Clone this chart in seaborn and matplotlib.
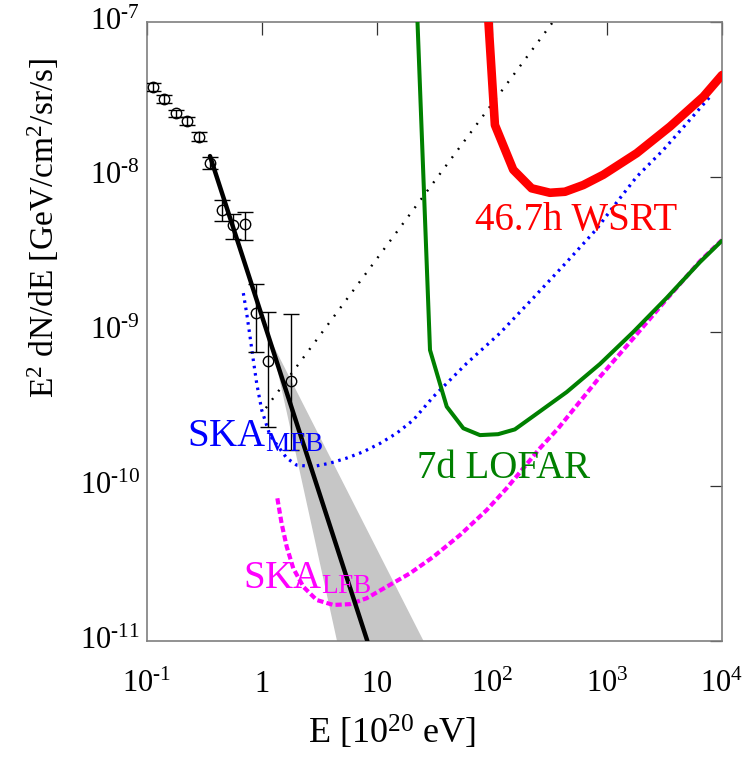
import matplotlib
matplotlib.use("Agg")
import numpy as np
import pandas as pd
import matplotlib.pyplot as plt
import seaborn as sns
from matplotlib.ticker import FixedLocator, FixedFormatter, NullLocator

# ---- measured cosmic-ray flux (E in 1e20 eV, E^2 dN/dE in GeV/cm^2/sr/s) ----
cr_E = [0.112, 0.141, 0.178, 0.224, 0.282, 0.355, 0.447, 0.562, 0.708, 0.891, 1.12, 1.78]
cr_flux = [3.79e-8, 3.17e-8, 2.57e-8, 2.30e-8, 1.82e-8, 1.23e-8,
           6.10e-9, 4.88e-9, 4.95e-9, 1.32e-9, 6.45e-10, 4.79e-10]
cr_upper = [4.02e-8, 3.36e-8, 2.72e-8, 2.44e-8, 1.96e-8, 1.35e-8,
            7.08e-9, 5.74e-9, 5.95e-9, 2.03e-9, 1.34e-9, 1.30e-9]
cr_lower = [3.56e-8, 2.98e-8, 2.42e-8, 2.16e-8, 1.69e-8, 1.12e-8,
            5.16e-9, 3.94e-9, 3.90e-9, 7.34e-10, 2.43e-10, 1.71e-10]

# ---- power-law fit and its uncertainty fan ----
fit_E = [0.353, 8.24]
fit_flux = [1.36e-8, 1.0e-11]
band_E = [1.20, 25.4, 4.49]
band_flux = [8.68e-10, 1.0e-11, 1.0e-11]

# ---- reference E^-1 line ----
ref_E = [1.08, 345.0]
ref_flux = [3.2e-10, 1.02e-7]

# ---- sensitivity limits ----
mfb_E = [0.688, 0.736, 0.787, 0.840, 0.899, 0.994, 1.17, 1.64, 2.00, 2.79, 3.90,
         5.45, 7.60, 10.6, 14.8, 20.7, 30.9, 60.3, 117, 229, 446, 814, 1134,
         1813, 3088, 4932, 7864]
mfb_flux = [1.77e-9, 1.31e-9, 9.26e-10, 6.54e-10, 4.63e-10, 3.11e-10, 2.14e-10,
            1.52e-10, 1.37e-10, 1.34e-10, 1.41e-10, 1.52e-10, 1.67e-10, 1.89e-10,
            2.20e-10, 2.68e-10, 3.79e-10, 6.23e-10, 9.74e-10, 1.65e-9, 2.81e-9,
            4.60e-9, 6.40e-9, 1.00e-8, 1.49e-8, 2.21e-8, 3.29e-8]

lfb_E = [1.36, 1.48, 1.64, 1.87, 2.29, 2.99, 4.17, 5.82, 8.14, 12.1, 19.4, 30.9,
         52.7, 89.9, 134, 261, 377, 869, 1693, 3305, 6437, 8993, 10000]
lfb_flux = [8.36e-11, 5.76e-11, 4.07e-11, 2.95e-11, 2.24e-11, 1.84e-11, 1.71e-11,
            1.73e-11, 1.89e-11, 2.24e-11, 2.74e-11, 3.50e-11, 4.84e-11, 7.02e-11,
            9.70e-11, 1.76e-10, 2.37e-10, 5.10e-10, 9.04e-10, 1.62e-9, 2.85e-9,
            3.62e-9, 3.90e-9]

lofar_E = [22.0, 22.5, 28.9, 40.4, 56.3, 78.6, 113, 158, 229, 446, 869, 1693,
           3305, 6437, 9940]
lofar_flux = [1.61e-7, 1.0e-7, 7.59e-10, 3.27e-10, 2.37e-10, 2.14e-10, 2.17e-10,
              2.33e-10, 2.84e-10, 4.06e-10, 6.17e-10, 9.93e-10, 1.65e-9, 2.81e-9,
              3.85e-9]

wsrt_E = [89.6, 93.2, 106, 153, 221, 319, 431, 622, 928, 1813, 3530, 6877, 10000]
wsrt_flux = [1.61e-7, 1.0e-7, 2.16e-8, 1.11e-8, 8.42e-9, 7.88e-9, 8.00e-9,
             8.84e-9, 1.03e-8, 1.42e-8, 2.11e-8, 3.29e-8, 4.54e-8]

# ---- axis ticks (superscripts use a short hyphen) ----
x_ticks = [0.1, 1, 10, 100, 1000, 10000]
x_ticklabels = ["$10^{\u20101}$", "$1$", "$10$", "$10^{2}$", "$10^{3}$", "$10^{4}$"]
y_ticks = [1e-11, 1e-10, 1e-9, 1e-8, 1e-7]
y_ticklabels = ["$10^{\u201011}$", "$10^{\u201010}$", "$10^{\u20109}$",
                "$10^{\u20108}$", "$10^{\u20107}$"]

sns.set_theme(style="white")
plt.rcParams.update({
    "font.family": ["Liberation Serif", "DejaVu Serif"],
    "mathtext.fontset": "custom",
    "mathtext.rm": "Liberation Serif",
    "mathtext.it": "Liberation Serif:italic",
    "mathtext.bf": "Liberation Serif:bold",
    "mathtext.default": "regular",
    "axes.edgecolor": "#7f7f7f",
    "axes.linewidth": 1.2,
})

fig = plt.figure(figsize=(7.46, 7.64), dpi=100)
ax = fig.add_axes([147 / 746, 1 - 641 / 764, 575 / 746, 619 / 764])
ax.set_xscale("log")
ax.set_yscale("log")

# uncertainty fan of the fit
ax.fill(band_E, band_flux, color="#c6c6c6", lw=0, zorder=1)

# reference slope line
sns.lineplot(x=ref_E, y=ref_flux, ax=ax, color="black", lw=1.7,
             linestyle=(0, (0.8, 3.6)), sort=False, estimator=None, zorder=2)

# sensitivity curves
sns.lineplot(x=mfb_E, y=mfb_flux, ax=ax, color="#0000ff", lw=2.3,
             linestyle=(0, (0.8, 1.5)), sort=False, estimator=None, zorder=3)
sns.lineplot(x=lfb_E, y=lfb_flux, ax=ax, color="#ff00ff", lw=3.0,
             linestyle=(0, (1.5, 0.75)), sort=False, estimator=None, zorder=3)
sns.lineplot(x=lofar_E, y=lofar_flux, ax=ax, color="#008000", lw=2.9,
             sort=False, estimator=None, zorder=3)
sns.lineplot(x=wsrt_E, y=wsrt_flux, ax=ax, color="#ff0000", lw=6.2,
             sort=False, estimator=None, zorder=3)

# power-law fit
sns.lineplot(x=fit_E, y=fit_flux, ax=ax, color="black", lw=3.2,
             sort=False, estimator=None, zorder=5)

# measured flux with error bars
flux = np.array(cr_flux)
yerr = [flux - np.array(cr_lower), np.array(cr_upper) - flux]
ax.errorbar(cr_E, cr_flux, yerr=yerr, fmt="o", ms=7.5, mfc="none", mec="black",
            mew=1.0, ecolor="black", elinewidth=1.0, capsize=5.5, capthick=1.0,
            zorder=6)

# curve labels
label_kw = dict(fontsize=28, ha="left", va="baseline", zorder=7)
ax.text(71.1, 4.53e-9, "46.7h WSRT", color="#ff0000", **label_kw)
ax.text(22.1, 1.125e-10, "7d LOFAR", color="#008000", **label_kw)
ax.text(0.221, 1.80e-10, r"SKA$_{\mathrm{MFB}}$", color="#0000ff", **label_kw)
ax.text(0.688, 2.19e-11, r"SKA$_{\mathrm{LFB}}$", color="#ff00ff", **label_kw)

ax.set_xlim(0.1, 1e4)
ax.set_ylim(1e-11, 1e-7)
ax.xaxis.set_major_locator(FixedLocator(x_ticks))
ax.xaxis.set_major_formatter(FixedFormatter(x_ticklabels))
ax.yaxis.set_major_locator(FixedLocator(y_ticks))
ax.yaxis.set_major_formatter(FixedFormatter(y_ticklabels))
ax.xaxis.set_minor_locator(NullLocator())
ax.yaxis.set_minor_locator(NullLocator())

ax.tick_params(which="major", direction="in", length=9, width=0.9,
               color="#333333", top=True, right=True, labelsize=22,
               labelcolor="black")
ax.tick_params(axis="x", pad=37)
ax.tick_params(axis="y", pad=5)
for lab in ax.get_xticklabels():
    lab.set_verticalalignment("baseline")
for lab in ax.get_yticklabels():
    lab.set_verticalalignment("center")

ax.set_xlabel(r"E [10$^{20}$ eV]", fontsize=26, color="black")
ax.set_ylabel(r"E$^2$ dN/dE [GeV/cm$^2$/sr/s]", fontsize=24, color="black")
ax.xaxis.set_label_coords(0.426, -0.118)
ax.yaxis.set_label_coords(-0.150, 0.667)

fig.savefig("out.png", dpi=100, facecolor="white")
